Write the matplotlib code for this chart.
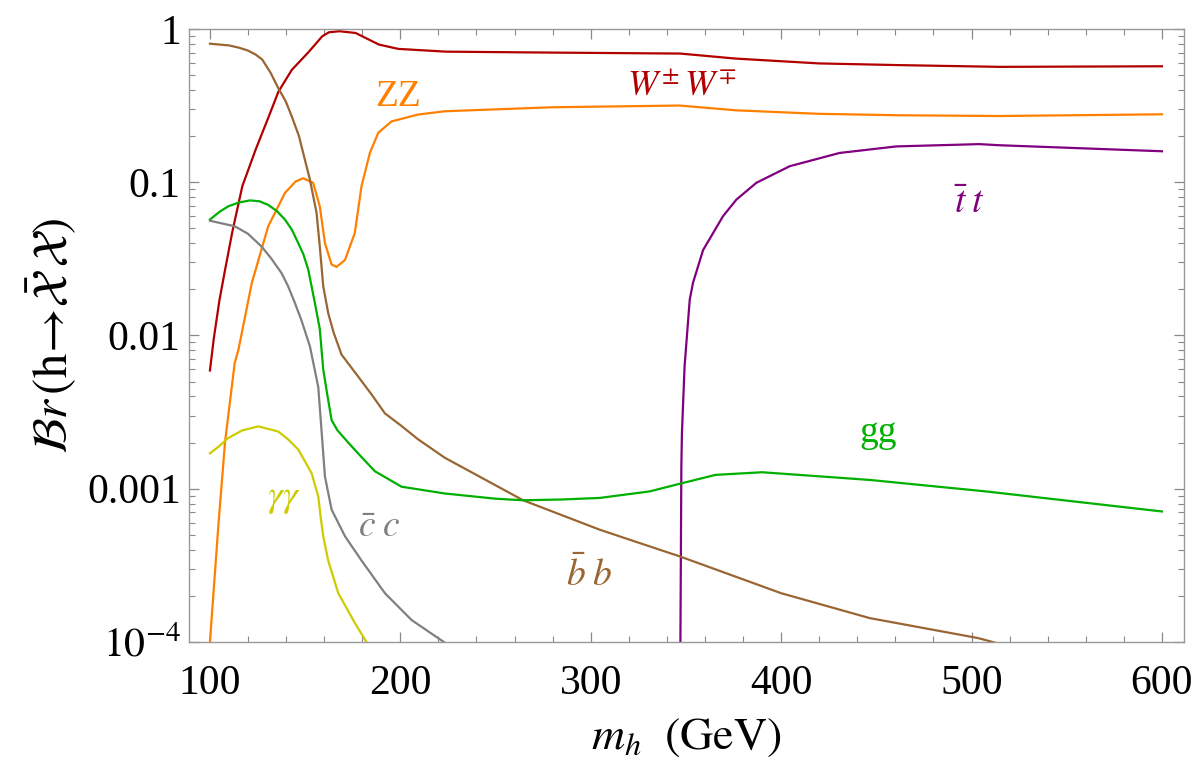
import numpy as np
import matplotlib
matplotlib.use("Agg")
from matplotlib import pyplot as plt
from matplotlib.ticker import FixedLocator, FixedFormatter, LogLocator, NullFormatter

plt.rcParams["font.family"] = ["Liberation Serif", "DejaVu Serif"]
plt.rcParams["mathtext.fontset"] = "stix"

# branching ratios (m_h in GeV)
ww_x = [100, 102, 105, 108, 111.7, 117, 124, 131, 136, 143, 152, 159, 162.5, 168, 176.5, 181.7, 188.7, 199, 224, 280, 347, 376, 420, 462, 515, 600]
ww_y = [0.0059, 0.0095, 0.017, 0.027, 0.047, 0.094, 0.163, 0.27, 0.39, 0.54, 0.71, 0.895, 0.95, 0.965, 0.94, 0.873, 0.79, 0.74, 0.71, 0.70, 0.69, 0.64, 0.595, 0.58, 0.565, 0.57]

zz_x = [100, 104.4, 107.9, 113, 115, 122, 130.6, 139.4, 145, 149, 154.2, 157.7, 160.4, 163.9, 166.5, 170.9, 176.1, 179.6, 184, 188.4, 195.4, 209.3, 223.4, 280, 346.7, 376.5, 420, 462, 515, 600]
zz_y = [1.0e-4, 5.7e-4, 0.002, 0.0066, 0.0081, 0.022, 0.0515, 0.085, 0.101, 0.106, 0.099, 0.0695, 0.040, 0.029, 0.028, 0.031, 0.0466, 0.094, 0.155, 0.21, 0.249, 0.276, 0.29, 0.308, 0.316, 0.294, 0.279, 0.273, 0.27, 0.277]

tt_x = [346.8, 347.1, 347.6, 347.9, 349.3, 352, 353.7, 359, 369.5, 376.5, 387, 404.5, 430.7, 460.5, 504, 515, 600]
tt_y = [5e-5, 1e-4, 0.0014, 0.0023, 0.0063, 0.0171, 0.022, 0.036, 0.06, 0.0769, 0.099, 0.127, 0.155, 0.171, 0.177, 0.174, 0.159]

bb_x = [100, 110, 115, 119.6, 124, 127.5, 131.9, 135.9, 139.8, 142.9, 146.8, 148.1, 152.5, 156, 157.7, 159.5, 162.1, 165, 169.1, 177.8, 185, 191.9, 200, 209.3, 223.4, 264.5, 304.7, 331, 347.2, 400, 446.6, 503.4, 511, 520]
bb_y = [0.80, 0.78, 0.755, 0.725, 0.68, 0.63, 0.516, 0.41, 0.337, 0.27, 0.199, 0.171, 0.104, 0.063, 0.038, 0.021, 0.014, 0.0104, 0.0075, 0.0054, 0.0041, 0.0031, 0.0026, 0.0021, 0.00159, 8.4e-4, 5.4e-4, 4.2e-4, 3.6e-4, 2.08e-4, 1.43e-4, 1.06e-4, 1.0e-4, 9.2e-5]

gg_x = [100, 105, 109.6, 115, 121, 126, 130.6, 135, 139.4, 143, 146.4, 149, 151.6, 155.1, 157.7, 159.5, 161.5, 163.9, 167, 172.6, 177.8, 186.6, 200.6, 223.4, 250, 264.5, 285, 304.7, 331, 347.2, 365.5, 389.9, 446.6, 507.4, 600]
gg_y = [0.057, 0.064, 0.0695, 0.0735, 0.076, 0.075, 0.071, 0.065, 0.057, 0.049, 0.040, 0.034, 0.027, 0.0163, 0.011, 0.006, 0.0042, 0.0028, 0.0024, 0.002, 0.0017, 0.0013, 0.00103, 9.3e-4, 8.6e-4, 8.4e-4, 8.5e-4, 8.7e-4, 9.6e-4, 1.08e-3, 1.23e-3, 1.28e-3, 1.14e-3, 9.6e-4, 7.1e-4]

cc_x = [100, 113.1, 120, 127.1, 132, 137.6, 141, 144.6, 148.1, 152.5, 156.9, 158.6, 160.4, 163.9, 170.9, 179.6, 191.9, 205.9, 222.8, 230]
cc_y = [0.056, 0.0515, 0.046, 0.038, 0.032, 0.0255, 0.021, 0.0163, 0.0125, 0.0085, 0.0046, 0.0024, 0.0012, 7.3e-4, 4.9e-4, 3.4e-4, 2.08e-4, 1.39e-4, 1.0e-4, 8.8e-5]

aa_x = [100, 105, 109.6, 117, 125.4, 135.9, 141, 146.4, 150, 153.4, 156.9, 158.3, 159.5, 162.1, 167.4, 176.1, 182.2, 185]
aa_y = [0.0017, 0.0019, 0.00214, 0.0024, 0.00255, 0.00236, 0.0021, 0.0018, 0.0015, 0.00126, 8.9e-4, 6.3e-4, 4.9e-4, 3.4e-4, 2.08e-4, 1.33e-4, 1.0e-4, 9e-5]

series = [
    ( ww_x, ww_y, "#B20000", r"$W^{\pm}\,W^{\mp}$", 348, 0.42, 26 ),
    ( zz_x, zz_y, "#FF8000", "ZZ", 198.7, 0.36, 27 ),
    ( tt_x, tt_y, "#800080", r"$\bar{t}\;t$", 499, 0.072, 27 ),
    ( bb_x, bb_y, "#996633", r"$\bar{b}\;b$", 299, 2.74e-4, 27 ),
    ( gg_x, gg_y, "#00B000", "gg", 450.7, 2.3e-3, 27 ),
    ( cc_x, cc_y, "#808080", r"$\bar{c}\;c$", 188.7, 5.6e-4, 27 ),
    ( aa_x, aa_y, "#CCCC00", r"$\gamma\gamma$", 138.9, 8.6e-4, 27 ),
]

ytick_vals = [1e-4, 1e-3, 1e-2, 1e-1, 1]
ytick_text = [r"$10^{-4}$", "0.001", "0.01", "0.1", "1"]
xtick_vals = [100, 200, 300, 400, 500, 600]

fig = plt.figure( figsize = ( 12, 7.8 ), dpi = 100 )
ax = fig.add_axes( [ 0.1575, 0.177, 0.829, 0.786 ] )

for xs, ys, col, lab, lx, ly, fs in series:
    ax.plot( xs, ys, color = col, lw = 1.6, solid_joinstyle = "round" )
    ax.text( lx, ly, lab, color = col, fontsize = fs, ha = "center", va = "center" )

ax.set_yscale( "log" )
ax.set_xlim( 89, 611.5 )
ax.set_ylim( 1e-4, 1 )

ax.xaxis.set_major_locator( FixedLocator( xtick_vals ) )
ax.xaxis.set_minor_locator( FixedLocator( np.arange( 100, 611, 20 ) ) )
ax.yaxis.set_major_locator( FixedLocator( ytick_vals ) )
ax.yaxis.set_major_formatter( FixedFormatter( ytick_text ) )
ax.yaxis.set_minor_locator( LogLocator( base = 10, subs = np.arange( 2, 10 ) ) )
ax.yaxis.set_minor_formatter( NullFormatter() )

for sp in ax.spines.values():
    sp.set_color( "#999999" )
    sp.set_linewidth( 1.0 )

ax.tick_params( which = "both", direction = "in", top = True, right = True,
                color = "#888888", labelcolor = "black" )
ax.tick_params( which = "major", length = 7, width = 0.9, labelsize = 30 )
ax.tick_params( which = "minor", length = 4, width = 0.8 )
ax.tick_params( axis = "x", which = "major", pad = 16 )
ax.tick_params( axis = "y", which = "major", pad = 6 )

ax.set_xlabel( r"$m_h\ \ (\mathrm{GeV})$", fontsize = 33, labelpad = 10 )
ax.set_ylabel( r"$\mathcal{B}r\,(\mathrm{h}\!\rightarrow\!\bar{\mathcal{X}}\,\mathcal{X})$", fontsize = 35, labelpad = 6 )

fig.savefig( "out.png", dpi = 100 )
